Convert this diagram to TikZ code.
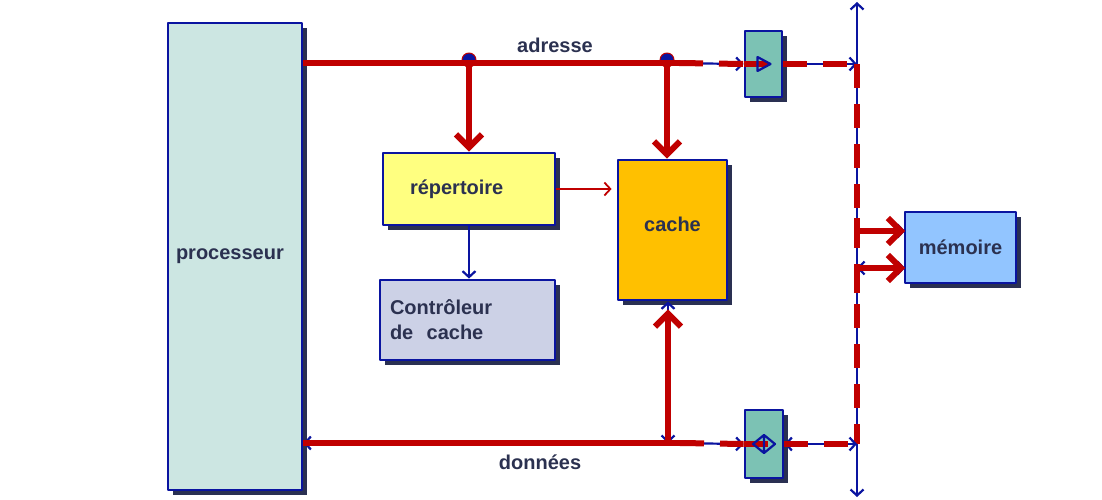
\documentclass[tikz,border=0pt]{standalone}
\usepackage{fontspec}
\setmainfont{Liberation Sans}
\usetikzlibrary{arrows.meta,shadows}
\definecolor{bord}{HTML}{0A14A0}
\definecolor{shad}{HTML}{2A3052}
\definecolor{txt}{HTML}{2B3150}
\definecolor{rouge}{HTML}{C00000}
\definecolor{procfill}{HTML}{CCE6E2}
\definecolor{repfill}{HTML}{FFFF80}
\definecolor{ctrlfill}{HTML}{CCD1E6}
\definecolor{cachefill}{HTML}{FFC000}
\definecolor{memfill}{HTML}{92C5FF}
\definecolor{latchfill}{HTML}{7CC2B4}
\tikzset{
    > = {Straight Barb[length=6pt,width=13pt]}
}
\begin{document}
\begin{tikzpicture}[x=1pt,y=-1pt,line join=round]
        \tikzstyle{blk}=[draw=bord,line width=2.8pt,text=txt,inner sep=0pt,
            font=\bfseries\fontsize{20}{25}\selectfont,
            drop shadow={shadow xshift=5pt,shadow yshift=-5pt,fill=shad,opacity=1}]
        \tikzstyle{lbl}=[text=txt,font=\bfseries\fontsize{20}{25}\selectfont]
        \tikzstyle{fil}=[bord,line width=2.2pt]
        \tikzstyle{bus}=[rouge,line width=6pt]
        \tikzstyle{tirets}=[dash pattern=on 24pt off 16pt]
        \tikzstyle{gros}=[-{Straight Barb[length=13pt,width=26pt]}]
        \useasboundingbox (0,0) rectangle (1102,500);
        \node[blk,fill=procfill,minimum width=134pt,minimum height=467pt,text width=118pt,align=left] (proc) at (235,256.5) {processeur};
        \node[blk,fill=repfill,minimum width=172pt,minimum height=72pt,text width=118pt,align=left] (rep) at (469,189) {répertoire};
        \node[blk,fill=ctrlfill,minimum width=175pt,minimum height=80pt,text width=155pt,align=left] (ctrl) at (467.5,320) {Contrôleur\\de\ \ cache};
        \node[blk,fill=cachefill,minimum width=109pt,minimum height=140pt,text depth=12pt] (cache) at (672.5,230) {cache};
        \node[blk,fill=memfill,minimum width=111pt,minimum height=71pt] (mem) at (960.5,247.5) {mémoire};
        \node[blk,fill=latchfill,minimum width=37pt,minimum height=66pt] (latchA) at (763.5,64) {};
        \node[blk,fill=latchfill,minimum width=38pt,minimum height=68pt] (latchD) at (764,444) {};
        \node[lbl] (adr) at (555,45) {adresse};
        \node[lbl] (don) at (540,462) {données};
        \coordinate (busT) at (857,2);
        \coordinate (busB) at (857,497);
        \coordinate (jA1) at (469,63);
        \coordinate (jA2) at (667,63);
        \coordinate (jD) at (668,443);
        \coordinate (memA) at (905,231);
        \coordinate (memB) at (905,268);
        \draw[fil,<->] (busB) -- (busT);
        \filldraw[fill=bord,draw=rouge,line width=1pt] (jA1) ++(0,-3) circle (7pt);
        \filldraw[fill=bord,draw=rouge,line width=1pt] (jA2) ++(0,-3) circle (7pt);
        \draw[fil,->] (jA2) -- (latchA.west);
        \draw[bus] (proc.east |- jA1) -- (jA2) -- ++(12,0) coordinate (aD);
        \draw[bus,tirets] (aD) -- (latchA.west);
        \draw[bus] (latchA.west) -- ++(24,0);
        \draw[fil] (latchA.center) ++(-6,-7) -- ++(13,7) -- ++(-13,7) -- cycle;
        \draw[fil,->] (latchA.east) -- (busT |- latchA.east);
        \draw[bus,tirets] (latchA.east) -- (busT |- latchA.east);
        \draw[bus,tirets] (busT |- latchA.east) -- (busT |- latchD.east);
        \draw[bus,gros] (jA1) -- (rep.north);
        \draw[bus,gros] (jA2) -- (jA2 |- cache.north);
        \draw[rouge,line width=1.8pt,->,shorten >=5pt] (rep.east) -- (rep.east -| cache.west);
        \draw[fil,->] (rep.south) -- (rep.south |- ctrl.north);
        \draw[fil,->] (busT |- memA) -- (memA);
        \draw[fil,<->] (busT |- memB) -- (memB);
        \draw[bus,gros] (busT |- memA) ++(0,-13) -- ++(0,13) -- (memA);
        \draw[bus,gros] (busT |- memB) ++(0,25) -- ++(0,-25) -- (memB);
        \draw[fil,->] (jD) -- (proc.east |- jD);
        \draw[fil,<->] (jD) -- (jD |- cache.south);
        \draw[fil,->] (jD) -- (latchD.west);
        \draw[bus] (proc.east |- jD) -- (jD) -- ++(12,0) coordinate (dD);
        \draw[bus,tirets] (dD) -- (latchD.west);
        \draw[bus,gros,shorten >=8pt] (jD) -- (jD |- cache.south);
        \draw[bus] (latchD.west) -- ++(24,0);
        \draw[fil] (latchD.center) ++(-11,0) -- ++(11,-9) -- ++(11,9) -- ++(-11,9) -- cycle
            (latchD.center) ++(0,-9) -- ++(0,18);
        \draw[fil,<->] (latchD.east) -- (busT |- latchD.east);
        \draw[bus,tirets] (latchD.east) -- (busT |- latchD.east);
    \end{tikzpicture}
\end{document}
